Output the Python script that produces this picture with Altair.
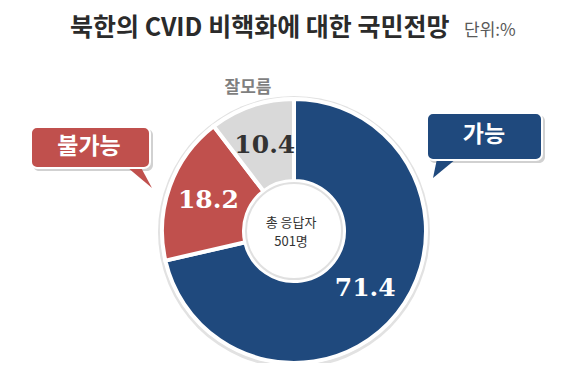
import altair as alt
import pandas as pd

# ---- data ----
categories = ["가능", "불가능", "잘모름"]
values = [71.4, 18.2, 10.4]
slice_colors = ["#1F497D", "#C0504D", "#D9D9D9"]
label_colors = ["#FFFFFF", "#FFFFFF", "#333333"]
title_text = "북한의 CVID 비핵화에 대한 국민전망"
unit_text = "단위:%"
center_lines = ["총 응답자", "501명"]

df = pd.DataFrame({
    "category": categories,
    "value": values,
    "order": list(range(len(categories))),
    "lc": label_colors,
})
one = pd.DataFrame({"k": [0]})

CX, CY = 286, 223
KR = "Noto Sans CJK KR"

base = alt.Chart(df)

shadow = alt.Chart(one).mark_point(filled=True, shape="circle", opacity=1, color="#E2E2E2").encode(
    x=alt.value(CX), y=alt.value(CY + 1), size=alt.value(272 * 272))
rim = alt.Chart(one).mark_point(filled=True, shape="circle", opacity=1, color="#FFFFFF").encode(
    x=alt.value(CX), y=alt.value(CY), size=alt.value(267 * 267))

arcs = base.mark_arc(outerRadius=132, innerRadius=50, stroke="white", strokeWidth=4).encode(
    theta=alt.Theta("value:Q", stack=True),
    order=alt.Order("order:Q"),
    color=alt.Color("category:N", scale=alt.Scale(domain=categories, range=slice_colors), legend=None),
    x=alt.value(CX), y=alt.value(CY),
)

hole = alt.Chart(one).mark_point(filled=True, shape="circle", opacity=1, color="#FFFFFF",
                                 stroke="#E0E0E0", strokeWidth=2).encode(
    x=alt.value(CX), y=alt.value(CY), size=alt.value(96 * 96))

labels = base.mark_text(radius=91, font="DejaVu Serif", fontWeight="bold", fontSize=25,
                        baseline="middle", align="center").encode(
    theta=alt.Theta("value:Q", stack=True),
    order=alt.Order("order:Q"),
    text=alt.Text("value:Q", format=".1f"),
    color=alt.Color("lc:N", scale=None),
    x=alt.value(CX), y=alt.value(CY),
)

center1 = alt.Chart(one).mark_text(font=KR, fontSize=13, color="#333333").encode(
    x=alt.value(283), y=alt.value(215), text=alt.value(center_lines[0]))
center2 = alt.Chart(one).mark_text(font=KR, fontSize=13, color="#333333").encode(
    x=alt.value(283), y=alt.value(234), text=alt.value(center_lines[1]))

dk = alt.Chart(one).mark_text(font=KR, fontSize=17, fontWeight="bold", color="#7F7F7F").encode(
    x=alt.value(240), y=alt.value(80), text=alt.value(categories[2]))

# callout boxes
def box(x1, x2, y1, y2, color):
    sh = alt.Chart(one).mark_rect(cornerRadius=6, color="#000000", opacity=0.18).encode(
        x=alt.value(x1 + 2), x2=alt.value(x2 + 3), y=alt.value(y1 + 2), y2=alt.value(y2 + 3))
    bx = alt.Chart(one).mark_rect(cornerRadius=6, color=color, stroke="white", strokeWidth=2).encode(
        x=alt.value(x1), x2=alt.value(x2), y=alt.value(y1), y2=alt.value(y2))
    return sh, bx

red_sh, red_box = box(23, 142, 119, 160, "#C0504D")
blue_sh, blue_box = box(419, 534, 105, 152, "#1F497D")

red_tail = alt.Chart(one).mark_point(filled=True, opacity=1, color="#C0504D",
                                     shape="M-0.8,-0.4L0.9,-0.4L2.3,2.2Z").encode(
    x=alt.value(121), y=alt.value(158), size=alt.value(400))
blue_tail = alt.Chart(one).mark_point(filled=True, opacity=1, color="#1F497D",
                                      shape="M-1.2,-0.4L1.2,-0.4L-1.7,2Z").encode(
    x=alt.value(442), y=alt.value(150), size=alt.value(400))

red_txt = alt.Chart(one).mark_text(font=KR, fontSize=23, fontWeight="bold", color="white").encode(
    x=alt.value(81), y=alt.value(139), text=alt.value(categories[1]))
blue_txt = alt.Chart(one).mark_text(font=KR, fontSize=23, fontWeight="bold", color="white").encode(
    x=alt.value(476), y=alt.value(127), text=alt.value(categories[0]))

title = alt.Chart(one).mark_text(font=KR, fontSize=25, fontWeight="bold", color="#2B2B2B",
                                 align="left", baseline="middle").encode(
    x=alt.value(62), y=alt.value(20), text=alt.value(title_text))
unit = alt.Chart(one).mark_text(font=KR, fontSize=17, color="#595959",
                                align="left", baseline="middle").encode(
    x=alt.value(456), y=alt.value(23), text=alt.value(unit_text))

chart = alt.layer(
    shadow, rim, arcs, hole, labels, center1, center2, dk,
    red_sh, red_tail, red_box, red_txt,
    blue_sh, blue_tail, blue_box, blue_txt,
    title, unit,
).properties(width=564, height=355, padding=0, autosize="none", background="white"
).configure_view(strokeWidth=0)

chart.save("out.html", embed_options={"renderer": "svg", "actions": False})
